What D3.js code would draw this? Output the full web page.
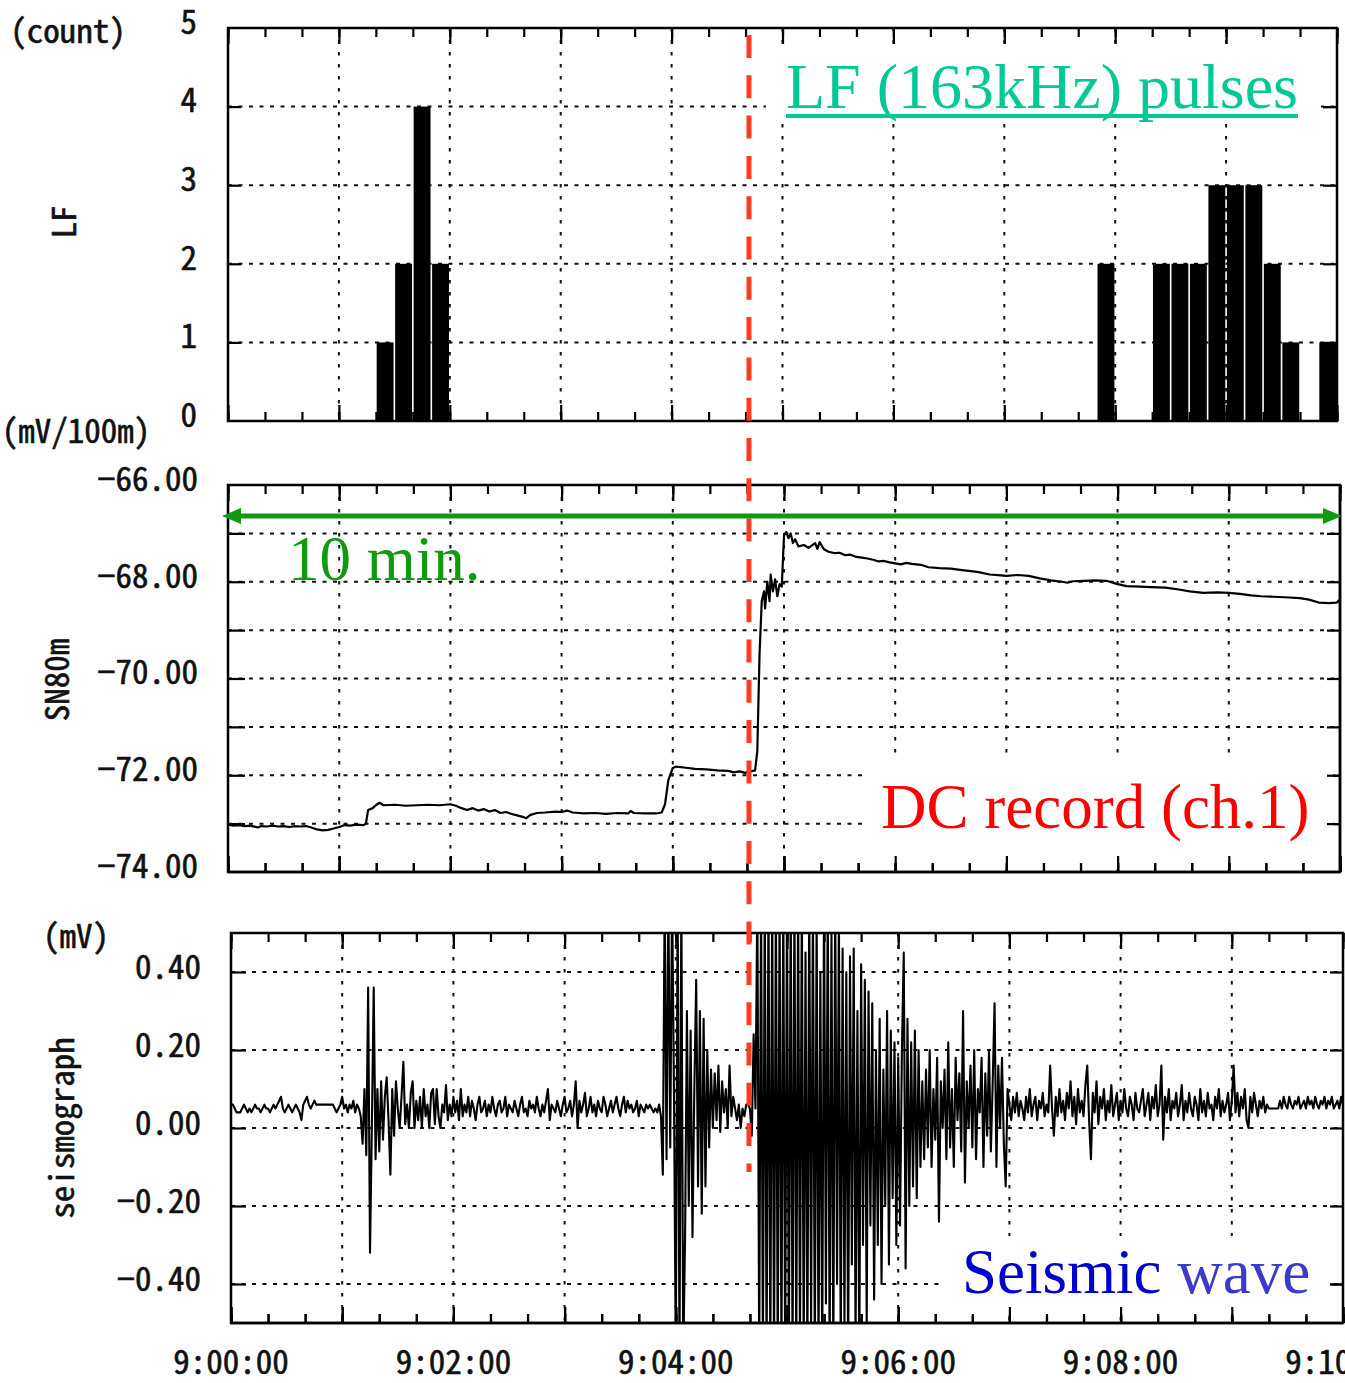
<!DOCTYPE html>
<html><head><meta charset="utf-8">
<script src="https://cdn.jsdelivr.net/npm/d3@7"></script>
<style>body{margin:0;background:#fff;overflow:hidden}svg{display:block}
.mono{font-family:'Noto Sans CJK JP','DejaVu Sans Mono',monospace;font-feature-settings:"hwid" 1;}</style>
</head><body>
<svg id="c" width="1345" height="1383"></svg>
<script>
// ---------------- DATA ----------------
// LF (163 kHz) pulse counts in 10-second bins (bin start, seconds after 9:00:00)
const lfBinStartSec = [80, 90, 100, 110, 470, 500, 510, 520, 530, 540, 550, 560, 570, 590];
const lfCounts      = [1,  2,  4,   2,   2,   2,   2,   2,   3,   3,   3,   2,   1,   1];
const lfBinSec = 10;
const lfTicks = [0, 1, 2, 3, 4, 5];

// DC record ch.1 (SN80m), [minutes after 9:00, mV/100m]
const dcRecord = [
[0.00,-73.02],[0.05,-73.04],[0.10,-73.03],[0.15,-73.05],[0.20,-73.04],[0.27,-73.08],[0.30,-73.05],
[0.35,-73.06],[0.40,-73.04],[0.45,-73.06],[0.50,-73.05],[0.55,-73.07],[0.60,-73.05],[0.65,-73.06],
[0.70,-73.05],[0.75,-73.08],[0.80,-73.12],[0.85,-73.14],[0.90,-73.13],[0.95,-73.10],[1.00,-73.07],
[1.05,-73.03],[1.10,-73.04],[1.15,-73.02],[1.22,-73.03],[1.24,-73.00],[1.26,-72.72],[1.30,-72.68],
[1.33,-72.62],[1.36,-72.57],[1.40,-72.62],[1.50,-72.61],[1.60,-72.63],[1.70,-72.62],[1.80,-72.61],
[1.90,-72.62],[2.00,-72.60],[2.05,-72.63],[2.10,-72.68],[2.15,-72.72],[2.20,-72.68],[2.25,-72.73],
[2.30,-72.70],[2.35,-72.75],[2.40,-72.72],[2.45,-72.78],[2.50,-72.76],[2.55,-72.80],[2.60,-72.83],
[2.65,-72.86],[2.68,-72.89],[2.72,-72.82],[2.78,-72.78],[2.85,-72.77],[2.95,-72.75],[3.00,-72.76],
[3.05,-72.73],[3.10,-72.77],[3.20,-72.79],[3.30,-72.78],[3.40,-72.80],[3.50,-72.78],[3.60,-72.79],
[3.62,-72.74],[3.65,-72.78],[3.75,-72.79],[3.85,-72.79],[3.90,-72.77],[3.93,-72.60],[3.96,-72.10],
[4.00,-71.85],[4.03,-71.82],[4.10,-71.84],[4.20,-71.87],[4.30,-71.88],[4.40,-71.90],[4.50,-71.91],
[4.55,-71.94],[4.60,-71.92],[4.65,-71.95],[4.70,-71.92],[4.74,-71.90],[4.76,-71.50],[4.78,-69.50],
[4.80,-68.40],[4.82,-68.20],[4.83,-68.55],[4.85,-68.00],[4.87,-68.40],[4.88,-67.85],[4.90,-68.20],
[4.92,-67.95],[4.94,-68.30],[4.96,-68.05],[4.98,-68.10],[5.00,-67.05],[5.02,-66.97],[5.04,-67.10],
[5.06,-67.00],[5.08,-67.20],[5.10,-67.12],[5.13,-67.27],[5.18,-67.24],[5.22,-67.30],[5.28,-67.20],
[5.30,-67.32],[5.32,-67.18],[5.36,-67.33],[5.40,-67.38],[5.46,-67.41],[5.50,-67.40],[5.55,-67.45],
[5.60,-67.44],[5.64,-67.48],[5.70,-67.50],[5.75,-67.52],[5.81,-67.55],[5.85,-67.58],[5.90,-67.57],
[5.95,-67.60],[6.00,-67.62],[6.05,-67.64],[6.10,-67.61],[6.15,-67.63],[6.23,-67.65],[6.30,-67.70],
[6.40,-67.72],[6.50,-67.73],[6.60,-67.76],[6.68,-67.78],[6.75,-67.80],[6.85,-67.85],[6.95,-67.87],
[7.00,-67.88],[7.10,-67.86],[7.20,-67.88],[7.30,-67.93],[7.40,-67.97],[7.50,-68.00],[7.55,-68.02],
[7.60,-67.99],[7.70,-67.98],[7.80,-67.97],[7.90,-67.98],[8.00,-68.05],[8.08,-68.09],[8.20,-68.10],
[8.30,-68.11],[8.43,-68.12],[8.55,-68.16],[8.65,-68.20],[8.77,-68.23],[8.90,-68.22],[9.00,-68.23],
[9.10,-68.25],[9.20,-68.28],[9.29,-68.30],[9.40,-68.31],[9.50,-68.32],[9.64,-68.34],[9.72,-68.37],
[9.81,-68.43],[9.90,-68.44],[9.97,-68.43],[10.00,-68.37]
];
const dcTicks = [-66, -68, -70, -72, -74];
const dcTickLabels = ["\u221266.00", "\u221268.00", "\u221270.00", "\u221272.00", "\u221274.00"];
const dcGrid = [-67, -68, -69, -70, -71, -72, -73];

// Seismograph, 1-second samples, in hundredths of mV; each segment starts at the given second
const seisSegStartSec = [0, 70, 90, 116, 230, 245, 284, 306, 330, 345, 363, 373, 420];
const seisQuiet1 = [6,6,5,4,4,4,5,6,5,4, 5,4,5,6,5,5,4,5,6,5, 5,4,5,6,5,6,7,8,5,4, 5,6,5,4,5,6,5,4,2,6,
  7,8,6,5,6,7,6,6,6,6, 6,6,6,6,6,6,5,4,5,6, 8,5,6,4,6,5,7,4,6,5];
const seisEvent1 = [3,-4,10,-7,36,-32,0,36,-8,10,-6,12,-3,8,13,2,-12,10,-2,12];
const seisCoda1 = [5,0,8,17,1,6,0,9,12,0,7,2,8,0,10,3,6,0,9,10,1,10,3,0,6,4];
const seisQuiet2 = [11,2,6,3,8,4,7,2,10,3, 6,4,8,3,7,5,2,6,8,4, 5,7,3,6,4,8,5,3,6,7, 4,5,8,3,6,5,4,7,5,3,
  6,8,4,5,3,7,5,6,4,8, 5,3,6,4,7,10,2,6,5,4, 7,5,3,6,8,4,5,7,3,6, 12,0,7,4,6,9,3,5,8,4,
  6,3,7,5,4,8,6,3,5,7, 4,6,8,5,3,6,8,4,7,5, 6,4,5,7,3,6,5,4,6,5, 6,5,4,5];
const seisEvent2 = [4,6,3,-12,60,-8,60,-5,60,10,-60,60,-60,60,-60];
const seisCoda2 = [-28,30,-20,25,-28,10,38,-15,30,-22,28,-15,20,-5,15,0,14,2,16,-1,12,4,10,0,16,3,8,5,2,6,
  0,5,3,6,6,5,-2,24,5];
const seisMain1 = [60,-60,60,-60,60,-60,60,-60,60,-60,60,-60,60,-60,60,-60,60,-60,60,-60,60,-60];
const seisMain2 = [60,-55,60,-60,45,-60,60,-50,60,-60,55,-60,40,-60,60,-45,60,-60,50,-60,60,-40,55,-60];
const seisMain3 = [46,-50,40,-60,44,-35,46,-55,30,-60,42,-30,38,-50,35];
const seisMain4 = [-25,32,-44,20,-30,28,-40,15,-20,30,-35,25,-18,22,-30,18,-25,20];
const seisMain5 = [45,-36,28,-20,22,-15,25,-18,20,-10];
const seisDecay = [12,-8,15,-5,20,-10,10,-3,18,-24, 12,0,15,-8,22,-5,10,-10,18,2, 14,-6,30,-14,12,0,16,-5,20,-8,
  10,4,18,-10,14,-2,20,-6,12,32, -10,16,0,18,-4,-15,10];
const seisTail = [6,2,8,4,9,3,7,5,2,8, 4,10,3,6,8,2,7,5,9,3, 6,4,16,5,-2,8,3,10,4,7, 2,9,5,12,3,8,1,10,4,7,
  3,11,16,2,-8,9,4,12,1,8, 5,10,2,7,4,11,3,6,9,2, 7,4,10,5,3,8,6,2,9,5, 4,7,10,3,6,9,2,8,5,11,
  3,6,16,-3,8,4,10,2,7,5, 9,3,6,11,2,7,4,9,5,3, 8,6,2,10,4,7,3,9,5,6, 2,8,5,10,3,7,4,6,9,2,
  7,16,4,9,3,8,5,10,2,0, 8,4,9,6,3,7,5,8,4,6, 5,5,5,5,5,5,7,5,8,6, 5,8,6,5,7,6,8,5,6,7,
  5,8,6,7,5,8,6,5,7,6, 8,5,7,6,8,5,6,7,5,8,6];
const seisSegments = [seisQuiet1, seisEvent1, seisCoda1, seisQuiet2, seisEvent2, seisCoda2,
  seisMain1, seisMain2, seisMain3, seisMain4, seisMain5, seisDecay, seisTail];
const seisTicks = [0.4, 0.2, 0, -0.2, -0.4];
const seisTickLabels = ["0.40", "0.20", "0.00", "\u22120.20", "\u22120.40"];

const timeTickSec = [0, 120, 240, 360, 480, 600];
const timeTickLabels = ["9:00:00", "9:02:00", "9:04:00", "9:06:00", "9:08:00", "9:10:00"];
const eventLineMin = 4.685;   // red dashed marker (minutes after 9:00)

// ---------------- LAYOUT ----------------
const svg = d3.select('#c');
const P = {
  lf: {x0: 228, x1: 1337, y0: 28,  y1: 421},
  dc: {x0: 228, x1: 1340, y0: 485, y1: 872},
  se: {x0: 231, x1: 1343, y0: 933, y1: 1323}
};
const xLF = d3.scaleLinear().domain([0, 600]).range([P.lf.x0, P.lf.x1]);
const yLF = d3.scaleLinear().domain([0, 5]).range([P.lf.y1, P.lf.y0]);
const xDC = d3.scaleLinear().domain([0, 600]).range([P.dc.x0, P.dc.x1]);
const yDC = d3.scaleLinear().domain([-74, -66]).range([P.dc.y1, P.dc.y0]);
const xSE = d3.scaleLinear().domain([0, 600]).range([P.se.x0, P.se.x1]);
const ySE = d3.scaleLinear().domain([-0.5, 0.5]).range([P.se.y1, P.se.y0]);

const minorSec = d3.range(0, 601, 20);
const majorSec = d3.range(0, 601, 60);
const gridSec = d3.range(60, 600, 60);

const gGrid = svg.append('g');
const gData = svg.append('g');
const gFrame = svg.append('g');
const gAnno = svg.append('g');
const gText = svg.append('g');

function grid(p, xs, ys, hVals) {
  gGrid.append('g').selectAll('line').data(gridSec).join('line')
    .attr('x1', d => xs(d)).attr('x2', d => xs(d)).attr('y1', p.y0).attr('y2', p.y1)
    .attr('stroke', '#111').attr('stroke-width', 2).attr('stroke-dasharray', '3.5,8.5');
  gGrid.append('g').selectAll('line').data(hVals).join('line')
    .attr('x1', p.x0).attr('x2', p.x1).attr('y1', d => ys(d)).attr('y2', d => ys(d))
    .attr('stroke', '#111').attr('stroke-width', 2).attr('stroke-dasharray', '4,6.5');
}
function styleAxis(g) {
  g.select('.domain').remove();
  g.selectAll('.tick line').attr('stroke', '#000').attr('stroke-width', 2.2);
  g.selectAll('.tick text').remove();
}
function frame(p, xs, ys, hVals, leftLen, rightLen) {
  gFrame.append('g').attr('transform', `translate(0,${p.y0})`)
    .call(d3.axisBottom(xs).tickValues(minorSec).tickSize(9).tickFormat('')).call(styleAxis);
  gFrame.append('g').attr('transform', `translate(0,${p.y0})`)
    .call(d3.axisBottom(xs).tickValues(majorSec).tickSize(16).tickFormat('')).call(styleAxis);
  gFrame.append('g').attr('transform', `translate(0,${p.y1})`)
    .call(d3.axisTop(xs).tickValues(minorSec).tickSize(9).tickFormat('')).call(styleAxis);
  gFrame.append('g').attr('transform', `translate(0,${p.y1})`)
    .call(d3.axisTop(xs).tickValues(majorSec).tickSize(16).tickFormat('')).call(styleAxis);
  gFrame.append('g').attr('transform', `translate(${p.x0},0)`)
    .call(d3.axisRight(ys).tickValues(hVals).tickSize(leftLen).tickFormat('')).call(styleAxis);
  gFrame.append('g').attr('transform', `translate(${p.x1},0)`)
    .call(d3.axisLeft(ys).tickValues(hVals).tickSize(rightLen).tickFormat('')).call(styleAxis);
  gFrame.append('rect').attr('x', p.x0).attr('y', p.y0)
    .attr('width', p.x1 - p.x0).attr('height', p.y1 - p.y0)
    .attr('fill', 'none').attr('stroke', '#000').attr('stroke-width', 2.5);
}

const lfGrid = [1, 2, 3, 4];
const seGrid = seisTicks;
grid(P.lf, xLF, yLF, lfGrid);
grid(P.dc, xDC, yDC, dcGrid);
grid(P.se, xSE, ySE, seGrid);

// ---- LF bars ----
gData.append('g').selectAll('rect').data(lfBinStartSec.map((s, i) => ({s, c: lfCounts[i]}))).join('rect')
  .attr('x', d => xLF(d.s) + 0.8)
  .attr('width', d => xLF(d.s + lfBinSec) - xLF(d.s) - 1.6)
  .attr('y', d => yLF(d.c))
  .attr('height', d => yLF(0) - yLF(d.c))
  .attr('fill', '#000');

// ---- DC line ----
gData.append('path').datum(dcRecord)
  .attr('d', d3.line().x(d => xDC(d[0] * 60)).y(d => yDC(d[1])))
  .attr('fill', 'none').attr('stroke', '#000').attr('stroke-width', 2.2).attr('stroke-linejoin', 'round');

// ---- Seismograph ----
const seisPoints = [];
seisSegments.forEach((seg, k) => seg.forEach((v, i) => seisPoints.push([seisSegStartSec[k] + i, v / 100])));
svg.append('defs').append('clipPath').attr('id', 'seClip').append('rect')
  .attr('x', P.se.x0).attr('y', P.se.y0).attr('width', P.se.x1 - P.se.x0).attr('height', P.se.y1 - P.se.y0);
gData.append('path').datum(seisPoints).attr('clip-path', 'url(#seClip)')
  .attr('d', d3.line().x(d => xSE(d[0])).y(d => ySE(d[1])))
  .attr('fill', 'none').attr('stroke', '#000').attr('stroke-width', 2.1).attr('stroke-linejoin', 'round');

frame(P.lf, xLF, yLF, lfGrid, 13, 14);
frame(P.dc, xDC, yDC, dcGrid, 17, 13);
frame(P.se, xSE, ySE, seGrid, 15, 13);

// ---------------- TEXT ----------------
function mono(x, y, str, anchor, rot) {
  gText.append('text').attr('class', 'mono')
    .attr('transform', `translate(${x},${y})${rot ? ' rotate(-90)' : ''}`)
    .attr('text-anchor', anchor).attr('dy', '0.36em')
    .attr('font-size', 33).attr('fill', '#111')
    .attr('stroke', '#111').attr('stroke-width', 0.6)
    .text(str);
}
lfTicks.forEach(v => mono(197, yLF(v) - 6, String(v), 'end'));
dcTicks.forEach((v, i) => mono(198, yDC(v) - 6, dcTickLabels[i], 'end'));
seisTicks.forEach((v, i) => mono(201, ySE(v) - 5, seisTickLabels[i], 'end'));
timeTickSec.forEach((s, i) => mono(xSE(s), 1362, timeTickLabels[i], 'middle'));
mono(68, 31, '(count)', 'middle');
mono(76, 431, '(mV/100m)', 'middle');
mono(76, 936, '(mV)', 'middle');
mono(64, 222, 'LF', 'middle', true);
mono(57, 680, 'SN80m', 'middle', true);
mono(62, 1128, 'seismograph', 'middle', true);

// ---------------- ANNOTATIONS ----------------
const SERIF = "'Liberation Serif', 'Times New Roman', serif";
function whiteBox(x0, y0, x1, y1) {
  gAnno.append('rect').attr('x', x0).attr('y', y0).attr('width', x1 - x0).attr('height', y1 - y0).attr('fill', '#fff');
}
whiteBox(766, 44, 1321, 124);
whiteBox(864, 754, 1333, 863);
whiteBox(944, 1236, 1330, 1316);
// re-draw right-edge ticks and bottom ticks hidden by white boxes
frameRepair();
function frameRepair() {
  const g = gAnno.append('g');
  g.append('g').attr('transform', `translate(${P.lf.x1},0)`)
    .call(d3.axisLeft(yLF).tickValues([4]).tickSize(14).tickFormat('')).call(styleAxis);
  g.append('g').attr('transform', `translate(${P.dc.x1},0)`)
    .call(d3.axisLeft(yDC).tickValues([-72, -73]).tickSize(13).tickFormat('')).call(styleAxis);
  g.append('g').attr('transform', `translate(0,${P.dc.y1})`)
    .call(d3.axisTop(xDC).tickValues(minorSec).tickSize(9).tickFormat('')).call(styleAxis);
  g.append('g').attr('transform', `translate(0,${P.dc.y1})`)
    .call(d3.axisTop(xDC).tickValues(majorSec).tickSize(16).tickFormat('')).call(styleAxis);
  g.append('g').attr('transform', `translate(${P.se.x1},0)`)
    .call(d3.axisLeft(ySE).tickValues([-0.4]).tickSize(13).tickFormat('')).call(styleAxis);
  g.append('g').attr('transform', `translate(0,${P.se.y1})`)
    .call(d3.axisTop(xSE).tickValues(minorSec).tickSize(9).tickFormat('')).call(styleAxis);
  g.append('g').attr('transform', `translate(0,${P.se.y1})`)
    .call(d3.axisTop(xSE).tickValues(majorSec).tickSize(16).tickFormat('')).call(styleAxis);
  g.append('line').attr('x1', P.dc.x1).attr('x2', P.dc.x1).attr('y1', P.dc.y0).attr('y2', P.dc.y1)
    .attr('stroke', '#000').attr('stroke-width', 2.5);
  g.append('line').attr('x1', P.dc.x0).attr('x2', P.dc.x1).attr('y1', P.dc.y1).attr('y2', P.dc.y1)
    .attr('stroke', '#000').attr('stroke-width', 2.5);
  g.append('line').attr('x1', P.se.x0).attr('x2', P.se.x1).attr('y1', P.se.y1).attr('y2', P.se.y1)
    .attr('stroke', '#000').attr('stroke-width', 2.5);
}

const title = gAnno.append('text').attr('x', 786).attr('y', 108)
  .attr('font-family', SERIF).attr('font-size', 64).attr('fill', '#00c896')
  .text('LF (163kHz) pulses');
const tw = title.node().getComputedTextLength();
gAnno.append('line').attr('x1', 786).attr('x2', 786 + tw).attr('y1', 116).attr('y2', 116)
  .attr('stroke', '#00c896').attr('stroke-width', 4);

gAnno.append('text').attr('x', 288).attr('y', 580)
  .attr('font-family', SERIF).attr('font-size', 63).attr('fill', '#0f9a0f').text('10 min.');
gAnno.append('text').attr('x', 881).attr('y', 828)
  .attr('font-family', SERIF).attr('font-size', 63).attr('fill', '#ff0000').text('DC record (ch.1)');
const sw = gAnno.append('text').attr('x', 962).attr('y', 1293)
  .attr('font-family', SERIF).attr('font-size', 63);
sw.append('tspan').attr('fill', '#0000cc').text('Seismic ');
sw.append('tspan').attr('fill', '#3a3acc').text('wave');

// red dashed event marker
gAnno.append('line')
  .attr('x1', xDC(eventLineMin * 60)).attr('x2', xDC(eventLineMin * 60))
  .attr('y1', 35).attr('y2', 1172)
  .attr('stroke', '#ff3c1e').attr('stroke-width', 5).attr('stroke-dasharray', '23,17.3');

// green 10-minute double arrow
const ay = 516, ax0 = 222, ax1 = 1342;
gAnno.append('line').attr('x1', ax0 + 12).attr('x2', ax1 - 12).attr('y1', ay).attr('y2', ay)
  .attr('stroke', '#119911').attr('stroke-width', 5);
gAnno.append('path').attr('fill', '#119911')
  .attr('d', `M${ax0},${ay} L${ax0 + 19},${ay - 8} L${ax0 + 19},${ay + 8} Z M${ax1},${ay} L${ax1 - 19},${ay - 8} L${ax1 - 19},${ay + 8} Z`);
</script>
</body></html>
